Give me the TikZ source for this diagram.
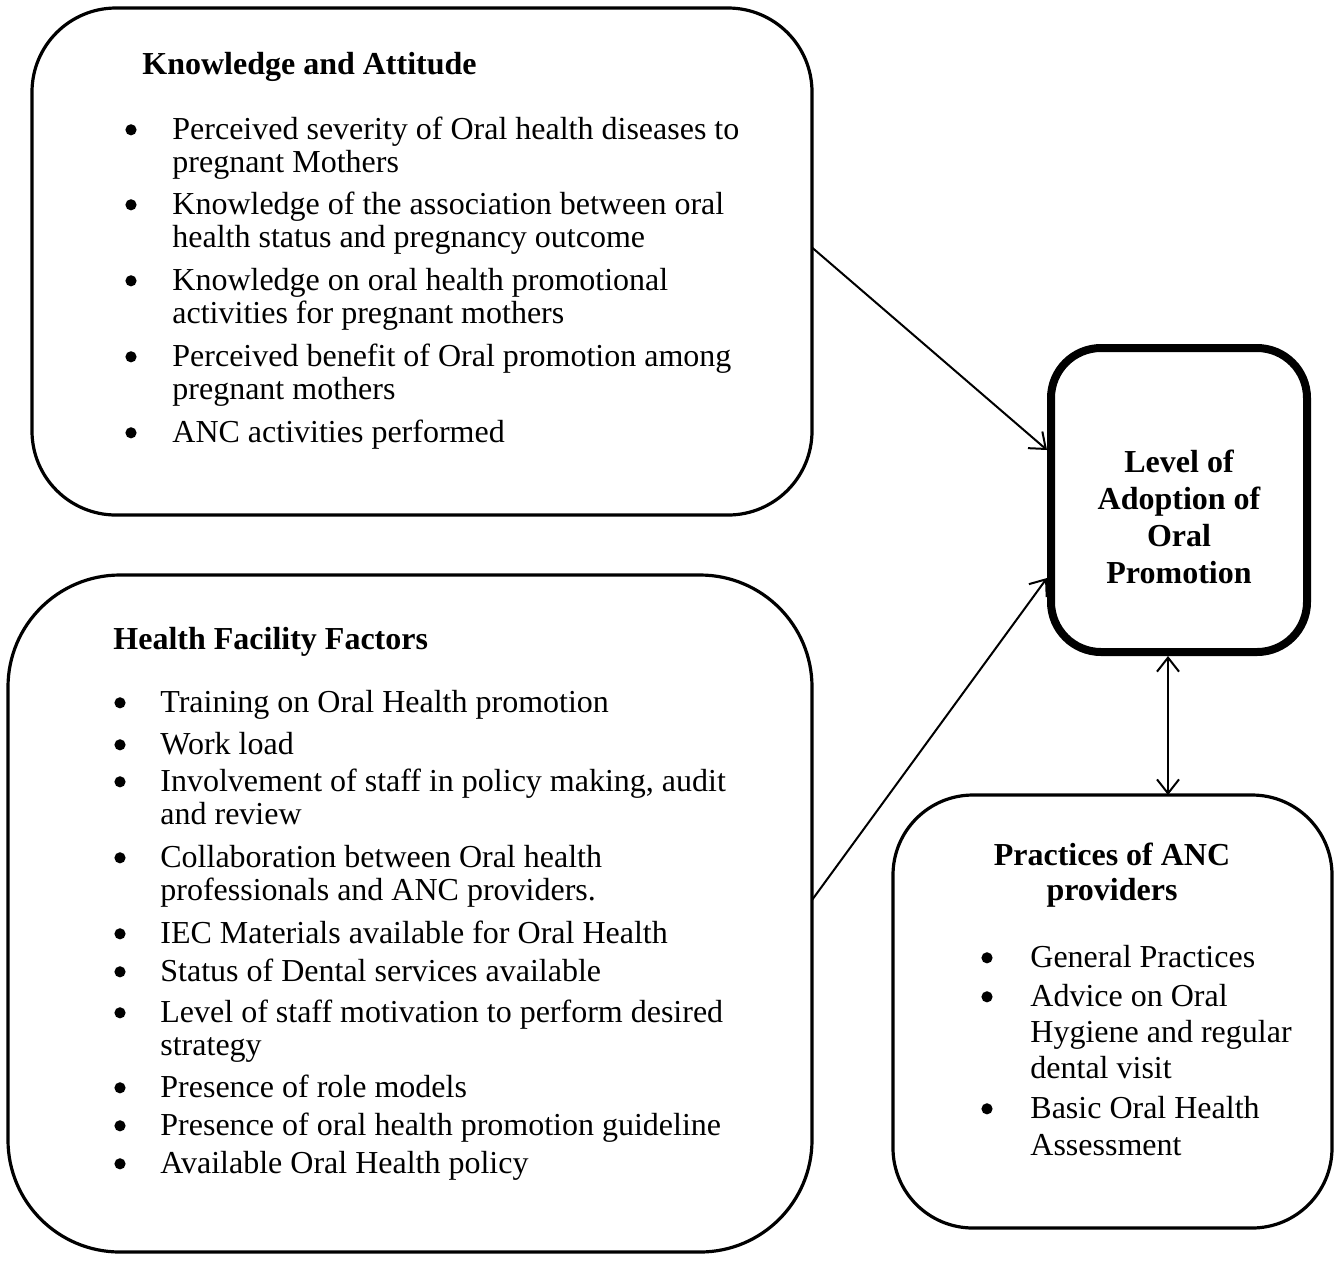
\documentclass[tikz,border=0pt]{standalone}
\usepackage{fontspec}
\setmainfont{Liberation Serif}
\usetikzlibrary{arrows.meta}
\begin{document}
\begin{tikzpicture}[x=0.5pt,y=-0.5pt,
  box/.style={draw, line width=1.6pt, outer sep=0pt, inner sep=0pt},
  txt/.style={anchor=base west, inner sep=0pt, font=\fontsize{16}{19}\selectfont},
  ttl/.style={anchor=base west, inner sep=0pt, font=\fontsize{16}{19}\selectfont\bfseries},
  ctl/.style={anchor=base, inner sep=0pt, font=\fontsize{16}{19}\selectfont\bfseries},
  bul/.style={circle, fill, draw=none, inner sep=0pt, minimum size=5.6pt, yshift=4.6pt},
  arr/.style={line width=1pt, -{Straight Barb[length=7pt,width=11pt]}},
  darr/.style={line width=1pt, {Straight Barb[length=7pt,width=11pt]}-{Straight Barb[length=7pt,width=11pt]}}
]
\useasboundingbox (0,0) rectangle (1338,1260);

% boxes
\node[box, rounded corners=42pt, minimum width=390pt, minimum height=253.5pt] (K) at (422,261.5) {};
\node[box, rounded corners=56pt, minimum width=402pt, minimum height=338.5pt] (H) at (410,913.5) {};
\node[box, line width=4pt, rounded corners=25pt, minimum width=128pt, minimum height=152pt] (L) at (1179,500) {};
\node[box, rounded corners=40pt, minimum width=219.5pt, minimum height=216.5pt] (P) at (1112.5,1011.5) {};

% Knowledge and Attitude
\node[ttl] (kt) at (142,74) {Knowledge and Attitude};
\node[bul] (kb1) at (131,139) {};
\node[txt] (k1) at (172,139) {Perceived severity of Oral health diseases to};
\node[txt] (k1b) at (172,172) {pregnant Mothers};
\node[bul] (kb2) at (131,214) {};
\node[txt] (k2) at (172,214) {Knowledge of the association between oral};
\node[txt] (k2b) at (172,247) {health status and pregnancy outcome};
\node[bul] (kb3) at (131,290) {};
\node[txt] (k3) at (172,290) {Knowledge on oral health promotional};
\node[txt] (k3b) at (172,323) {activities for pregnant mothers};
\node[bul] (kb4) at (131,366) {};
\node[txt] (k4) at (172,366) {Perceived benefit of Oral promotion among};
\node[txt] (k4b) at (172,399) {pregnant mothers};
\node[bul] (kb5) at (131,442) {};
\node[txt] (k5) at (172,442) {ANC activities performed};

% Health Facility Factors
\node[ttl] (ht) at (113,649) {Health Facility Factors};
\node[bul] (hb1) at (120,712) {};
\node[txt] (h1) at (160,712) {Training on Oral Health promotion};
\node[bul] (hb2) at (120,754) {};
\node[txt] (h2) at (160,754) {Work load};
\node[bul] (hb3) at (120,791) {};
\node[txt] (h3) at (160,791) {Involvement of staff in policy making, audit};
\node[txt] (h3b) at (160,824) {and review};
\node[bul] (hb4) at (120,867) {};
\node[txt] (h4) at (160,867) {Collaboration between Oral health};
\node[txt] (h4b) at (160,900) {professionals and ANC providers.};
\node[bul] (hb5) at (120,943) {};
\node[txt] (h5) at (160,943) {IEC Materials available for Oral Health};
\node[bul] (hb6) at (120,981) {};
\node[txt] (h6) at (160,981) {Status of Dental services available};
\node[bul] (hb7) at (120,1022) {};
\node[txt] (h7) at (160,1022) {Level of staff motivation to perform desired};
\node[txt] (h7b) at (160,1055) {strategy};
\node[bul] (hb8) at (120,1097) {};
\node[txt] (h8) at (160,1097) {Presence of role models};
\node[bul] (hb9) at (120,1135) {};
\node[txt] (h9) at (160,1135) {Presence of oral health promotion guideline};
\node[bul] (hb10) at (120,1173) {};
\node[txt] (h10) at (160,1173) {Available Oral Health policy};

% Level of Adoption
\node[ctl] (l1) at (1179,472) {Level of};
\node[ctl] (l2) at (1179,509) {Adoption of};
\node[ctl] (l3) at (1179,546) {Oral};
\node[ctl] (l4) at (1179,583) {Promotion};

% Practices of ANC providers
\node[ctl] (pt1) at (1112,865) {Practices of ANC};
\node[ctl] (pt2) at (1112,900) {providers};
\node[bul] (pb1) at (987,967) {};
\node[txt] (p1) at (1030,967) {General Practices};
\node[bul] (pb2) at (987,1006) {};
\node[txt] (p2) at (1030,1006) {Advice on Oral};
\node[txt] (p2b) at (1030,1042) {Hygiene and regular};
\node[txt] (p2c) at (1030,1078) {dental visit};
\node[bul] (pb3) at (987,1118) {};
\node[txt] (p3) at (1030,1118) {Basic Oral Health};
\node[txt] (p3b) at (1030,1155) {Assessment};

% connectors
\draw[arr] ([yshift=7pt]K.east) -- ([yshift=25pt,xshift=-2pt]L.west);
\draw[arr] ([yshift=6.75pt]H.east) -- ([yshift=-39pt,xshift=-2pt]L.west);
\draw[darr] ([xshift=-5.5pt,yshift=-2pt]L.south) -- ([xshift=-5.5pt]L.south |- P.north);
\end{tikzpicture}
\end{document}
